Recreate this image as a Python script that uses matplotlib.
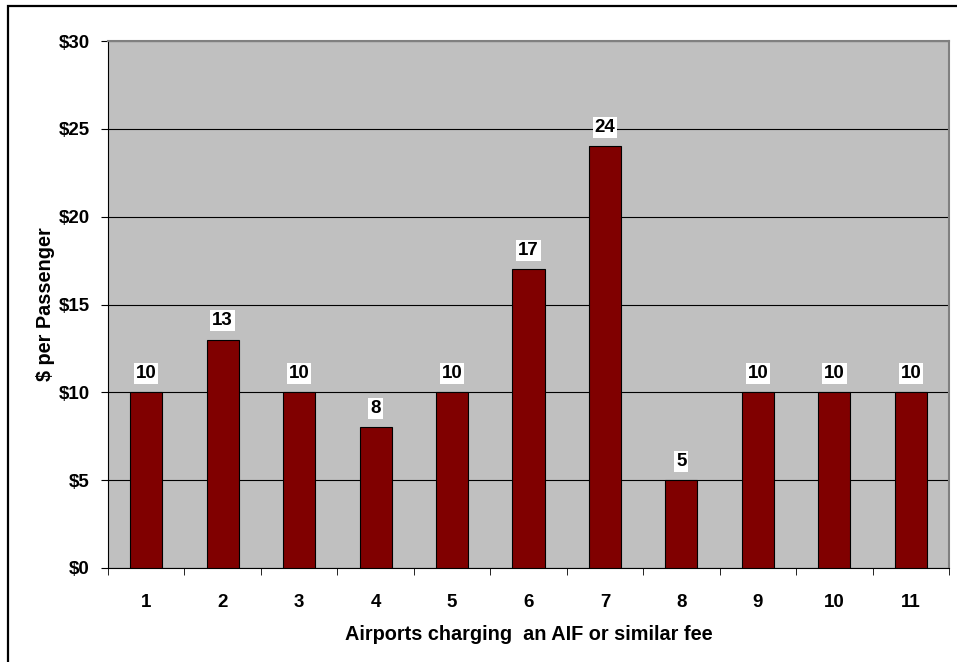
import matplotlib
matplotlib.use("Agg")
import matplotlib.pyplot as plt
from matplotlib.patches import Rectangle
from matplotlib.ticker import FixedLocator, FuncFormatter

airports = ["1", "2", "3", "4", "5", "6", "7", "8", "9", "10", "11"]
fees = [10, 13, 10, 8, 10, 17, 24, 5, 10, 10, 10]
y_ticks = [0, 5, 10, 15, 20, 25, 30]

plt.rcParams["font.family"] = ["Liberation Sans", "DejaVu Sans"]
plt.rcParams["font.weight"] = "bold"
FS = 13.5
LABEL_FS = 14.3

fig = plt.figure(figsize=(9.57, 6.62), dpi=100)
ax = fig.add_axes([108 / 957, 1 - 568 / 662, (949 - 108) / 957, (568 - 41) / 662])

x = list(range(len(airports)))
ax.bar(x, fees, width=0.42, color="#800000", edgecolor="black", linewidth=0.8, zorder=3)

for xi, v in zip(x, fees):
    ax.annotate(str(v), (xi, v), xytext=(0, 19), textcoords="offset pixels",
                ha="center", va="center", fontsize=FS, fontweight="bold",
                bbox=dict(boxstyle="square,pad=0.1", fc="white", ec="none"), zorder=4)

ax.set_facecolor("#c0c0c0")
ax.set_xlim(-0.5, len(airports) - 0.5)
ax.set_ylim(0, 30)
ax.set_yticks(y_ticks)
ax.yaxis.set_major_formatter(FuncFormatter(lambda v, p: f"${int(v)}"))
ax.yaxis.grid(True, color="black", linewidth=0.8, zorder=1)
ax.set_axisbelow(True)

ax.set_xticks(x)
ax.set_xticklabels(airports)
ax.xaxis.set_minor_locator(FixedLocator([i - 0.5 for i in range(len(airports) + 1)]))
ax.tick_params(axis="x", which="major", length=0, pad=19, labelsize=FS)
ax.tick_params(axis="x", which="minor", length=5, direction="out", color="black")
ax.tick_params(axis="y", length=5, direction="out", labelsize=FS, pad=8)
for lab in ax.get_xticklabels() + ax.get_yticklabels():
    lab.set_fontweight("bold")

for side in ("left", "bottom"):
    ax.spines[side].set_color("black")
    ax.spines[side].set_linewidth(0.8)
for side in ("top", "right"):
    ax.spines[side].set_color("#808080")
    ax.spines[side].set_linewidth(1.5)

ax.set_xlabel("Airports charging  an AIF or similar fee", fontsize=LABEL_FS, fontweight="bold", labelpad=10)
ax.set_ylabel("$ per Passenger", fontsize=LABEL_FS, fontweight="bold", labelpad=3)

fig.patches.append(Rectangle((8 / 957, -0.1), 1.2, 1 - 6 / 662 + 0.1, transform=fig.transFigure,
                             fill=False, edgecolor="black", linewidth=1.6))

fig.savefig("out.png", dpi=100)
